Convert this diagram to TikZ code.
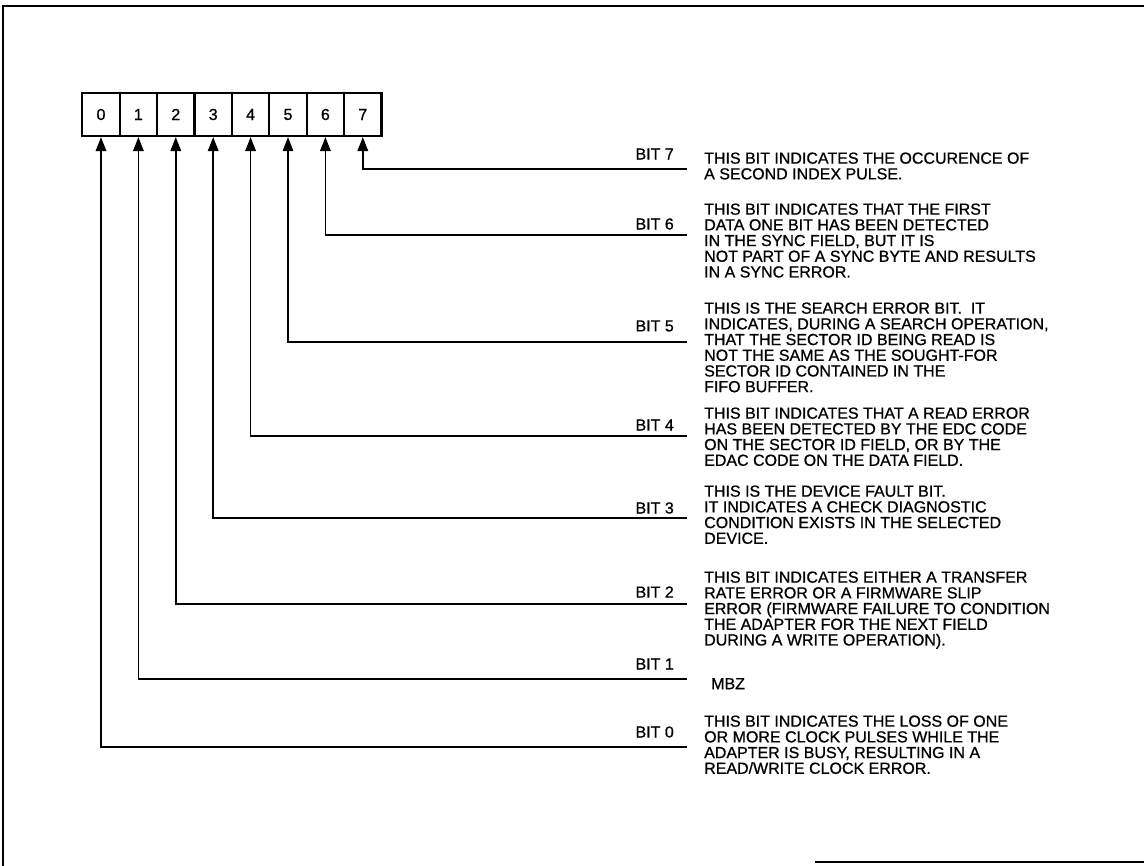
\documentclass[tikz,border=0pt]{standalone}
\usepackage{fontspec}
\setmainfont{Liberation Sans}[FakeBold=0.8]
\usetikzlibrary{arrows.meta}
\begin{document}
\begin{tikzpicture}[x=1pt,y=-1pt,
  cell/.style={draw,line width=2.2pt,minimum width=37.4pt,minimum height=43pt,inner sep=0pt,font=\fontsize{16}{16}\selectfont},
  conn/.style={line width=1.7pt,-{Triangle[length=14pt,width=10.5pt]}},
  bitlab/.style={anchor=east,inner sep=0pt,font=\fontsize{16}{16}\selectfont},
  desc/.style={anchor=north west,align=left,inner sep=0pt,font=\fontsize{16}{15.7}\selectfont},
  frameline/.style={line width=2pt}]
\useasboundingbox (0,0) rectangle (1144,866);
\draw[frameline] (3,866) -- (3,6) -- (1144,6);
\draw[frameline] (815,862) -- (1144,862);
% register cells
\foreach \i in {0,...,7}{
  \node[cell] (c\i) at ({101+37.4*\i},114.5) {\raisebox{-2pt}{\i}};
}
% line ends
\coordinate (e7) at (687,169);
\coordinate (e6) at (687,235);
\coordinate (e5) at (687,342);
\coordinate (e4) at (687,436);
\coordinate (e3) at (687,518);
\coordinate (e2) at (687,604);
\coordinate (e1) at (687,679);
\coordinate (e0) at (687,747);
\foreach \i in {0,...,7}{
  \draw[conn] (e\i) -| (c\i.south);
}
% bit labels
\node[bitlab] (l7) at (674,154) {BIT 7};
\node[bitlab] (l6) at (674,224) {BIT 6};
\node[bitlab] (l5) at (674,326) {BIT 5};
\node[bitlab] (l4) at (674,425) {BIT 4};
\node[bitlab] (l3) at (674,508) {BIT 3};
\node[bitlab] (l2) at (674,592) {BIT 2};
\node[bitlab] (l1) at (674,664) {BIT 1};
\node[bitlab] (l0) at (674,732) {BIT 0};
% descriptions
\node[desc] (d7) at (704,152.3) {THIS BIT INDICATES THE OCCURENCE OF\\A SECOND INDEX PULSE.};
\node[desc] (d6) at (704,203.3) {THIS BIT INDICATES THAT THE FIRST\\DATA ONE BIT HAS BEEN DETECTED\\IN THE SYNC FIELD, BUT IT IS\\NOT PART OF A SYNC BYTE AND RESULTS\\IN A SYNC ERROR.};
\node[desc] (d5) at (704,302.3) {THIS IS THE SEARCH ERROR BIT.\ \ IT\\INDICATES, DURING A SEARCH OPERATION,\\THAT THE SECTOR ID BEING READ IS\\NOT THE SAME AS THE SOUGHT-FOR\\SECTOR ID CONTAINED IN THE\\FIFO BUFFER.};
\node[desc] (d4) at (704,407.3) {THIS BIT INDICATES THAT A READ ERROR\\HAS BEEN DETECTED BY THE EDC CODE\\ON THE SECTOR ID FIELD, OR BY THE\\EDAC CODE ON THE DATA FIELD.};
\node[desc] (d3) at (704,485.3) {THIS IS THE DEVICE FAULT BIT.\\IT INDICATES A CHECK DIAGNOSTIC\\CONDITION EXISTS IN THE SELECTED\\DEVICE.};
\node[desc] (d2) at (704,571.3) {THIS BIT INDICATES EITHER A TRANSFER\\RATE ERROR OR A FIRMWARE SLIP\\ERROR (FIRMWARE FAILURE TO CONDITION\\THE ADAPTER FOR THE NEXT FIELD\\DURING A WRITE OPERATION).};
\node[desc] (d1) at (711,678) {MBZ};
\node[desc] (d0) at (704,715.3) {THIS BIT INDICATES THE LOSS OF ONE\\OR MORE CLOCK PULSES WHILE THE\\ADAPTER IS BUSY, RESULTING IN A\\READ/WRITE CLOCK ERROR.};
\end{tikzpicture}
\end{document}
